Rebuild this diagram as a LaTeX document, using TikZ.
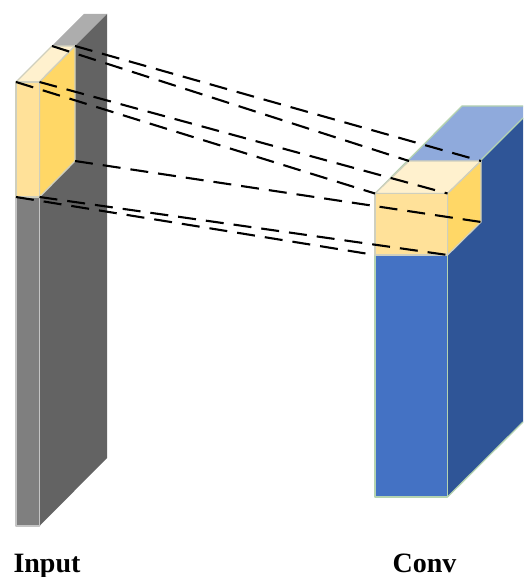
\documentclass[tikz,border=0pt]{standalone}
\usepackage{fontspec}
\setmainfont{Liberation Serif}
\definecolor{gf}{HTML}{7F7F7F}\definecolor{gs}{HTML}{636363}\definecolor{gt}{HTML}{ADADAD}
\definecolor{yf}{HTML}{FFE199}\definecolor{ys}{HTML}{FFD766}\definecolor{yt}{HTML}{FFF1CE}
\definecolor{bf}{HTML}{4472C4}\definecolor{bs}{HTML}{2F5597}\definecolor{bt}{HTML}{8FAADC}
\definecolor{edgeg}{HTML}{C4C4C4}\definecolor{edgeb}{HTML}{B5D3B0}\definecolor{edgey}{HTML}{CFCFBE}
\tikzset{
 face/.style={line width=1.3pt,line join=round},
 gface/.style={face,draw=edgeg},
 bface/.style={face,draw=edgeb},
 yface/.style={face,draw=edgey},
 link/.style={line width=2.1pt,black,dash pattern=on 18pt off 10pt},
 lab/.style={font=\bfseries\fontsize{28}{28}\selectfont,inner sep=0pt,anchor=base}
}
\begin{document}
\begin{tikzpicture}[x=1pt,y=-1pt]
\useasboundingbox (0,0) rectangle (523,577);
% input block
\coordinate (ia) at (16,82); \coordinate (ib) at (39.5,82);
\coordinate (ic) at (107,14); \coordinate (id) at (84,14);
\coordinate (ie) at (16,526); \coordinate (if) at (39.5,526);
\coordinate (ig) at (107,458);
\fill[gt] (ia)--(ib)--(ic)--(id)--cycle;
\fill[gs] (ib)--(ic)--(ig)--(if)--cycle;
\filldraw[gface,fill=gf] (ia)--(ib)--(if)--(ie)--cycle;
% input patch
\coordinate (pa) at (16,82); \coordinate (pb) at (39.5,82);
\coordinate (pc) at (75,46); \coordinate (pd) at (52,46);
\coordinate (pe) at (16,197); \coordinate (pf) at (39.5,197);
\coordinate (pg) at (75,161);
\filldraw[yface,fill=yt] (pa)--(pb)--(pc)--(pd)--cycle;
\filldraw[yface,fill=ys] (pb)--(pc)--(pg)--(pf)--cycle;
\filldraw[yface,fill=yf] (pa)--(pb)--(pf)--(pe)--cycle;
% conv block
\coordinate (ca) at (375,193.5); \coordinate (cb) at (447.5,193.5);
\coordinate (cc) at (523,118); \coordinate (cd) at (523,106); \coordinate (ce) at (462,106);
\coordinate (cf) at (375,497); \coordinate (cg) at (447.5,497);
\coordinate (ch) at (523,422);
\fill[bt] (ca)--(cb)--(cc)--(cd)--(ce)--cycle;
\draw[bface] (ca)--(ce)--(cd);
\fill[bs] (cb)--(cc)--(ch)--(cg)--cycle;
\draw[bface] (cb)--(cc);
\draw[bface] (cg)--(ch);
\filldraw[bface,fill=bf] (ca)--(cb)--(cg)--(cf)--cycle;
% conv patch
\coordinate (qa) at (375,193.5); \coordinate (qb) at (447.5,193.5);
\coordinate (qc) at (481,161); \coordinate (qd) at (409,161);
\coordinate (qe) at (375,255); \coordinate (qf) at (447.5,255);
\coordinate (qg) at (481,222);
\filldraw[yface,fill=yt] (qa)--(qb)--(qc)--(qd)--cycle;
\filldraw[yface,fill=ys] (qb)--(qc)--(qg)--(qf)--cycle;
\filldraw[yface,fill=yf] (qa)--(qb)--(qf)--(qe)--cycle;
% links
\draw[link] (pc)--(qc);
\draw[link] (pd)--(qd);
\draw[link] (pa)--(qa);
\draw[link] (pb)--(qb);
\draw[link] (pg)--(qg);
\draw[link] (pf)--(qf);
\draw[link] (pe)--(qe);
% labels
\node[lab] (input) at (47,572) {Input};
\node[lab] (conv) at (424.5,572) {Conv};
\end{tikzpicture}
\end{document}
